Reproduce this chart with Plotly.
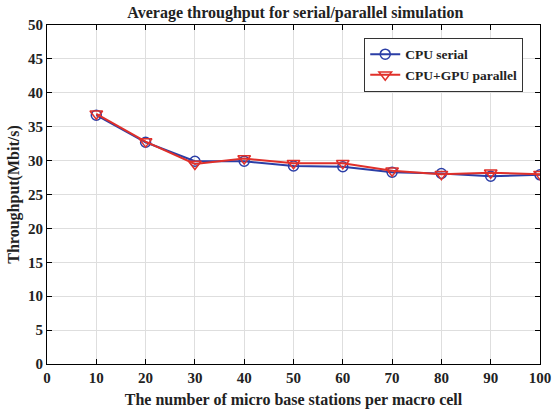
import plotly.graph_objects as go

stations = [10, 20, 30, 40, 50, 60, 70, 80, 90, 100]
cpu_serial = [36.7, 32.7, 29.9, 29.9, 29.2, 29.1, 28.3, 28.1, 27.7, 27.9]
gpu_parallel = [36.9, 32.8, 29.5, 30.3, 29.6, 29.6, 28.5, 28.0, 28.2, 28.0]
x_ticks = list(range(0, 101, 10))
y_ticks = list(range(0, 51, 5))

FONT = "Liberation Serif"
fig = go.Figure()
fig.add_trace(go.Scatter(
    x=stations, y=cpu_serial, mode="lines+markers", name="<b>CPU serial</b>",
    line=dict(color="#2b3ea6", width=2),
    marker=dict(symbol="circle-open", size=10, color="#2b3ea6", line=dict(width=1.5)),
))
fig.add_trace(go.Scatter(
    x=stations, y=gpu_parallel, mode="lines+markers", name="<b>CPU+GPU parallel</b>",
    line=dict(color="#e0302a", width=2),
    marker=dict(symbol="triangle-down-open", size=11, color="#e0302a", line=dict(width=1.5)),
))

axis_common = dict(
    showgrid=True, gridcolor="#dedede", gridwidth=1,
    showline=True, linecolor="black", linewidth=1, mirror="ticks",
    ticks="inside", ticklen=5, tickcolor="black", zeroline=False,
    tickfont=dict(family=FONT, size=15, color="#222"), automargin=False,
)
fig.update_xaxes(range=[0, 100], tickvals=x_ticks, ticktext=[f"<b>{v}</b>" for v in x_ticks],
                 title=dict(text="<b>The number of micro base stations per macro cell</b>",
                            font=dict(family=FONT, size=16, color="#222"), standoff=8),
                 **axis_common)
fig.update_yaxes(range=[0, 50], tickvals=y_ticks, ticktext=[f"<b>{v}</b>" for v in y_ticks],
                 title=dict(text="<b>Throughput(Mbit/s)</b>",
                            font=dict(family=FONT, size=16, color="#222"), standoff=4),
                 **axis_common)
fig.update_layout(
    width=552, height=411,
    margin=dict(l=47, r=12, t=25, b=47),
    paper_bgcolor="white", plot_bgcolor="white",
    title=dict(text="<b>Average throughput for serial/parallel simulation</b>",
               font=dict(family=FONT, size=16, color="#222"),
               x=0.535, xanchor="center", y=0.971, yanchor="middle"),
    legend=dict(x=0.966, y=0.962, xanchor="right", yanchor="top",
                bgcolor="white", bordercolor="#333", borderwidth=1,
                font=dict(family=FONT, size=13.5, color="#222"),
                tracegroupgap=0),
    showlegend=True,
)
fig.write_html("out.html", config={"displayModeBar": False},
               post_script="document.body.style.margin='0';")
